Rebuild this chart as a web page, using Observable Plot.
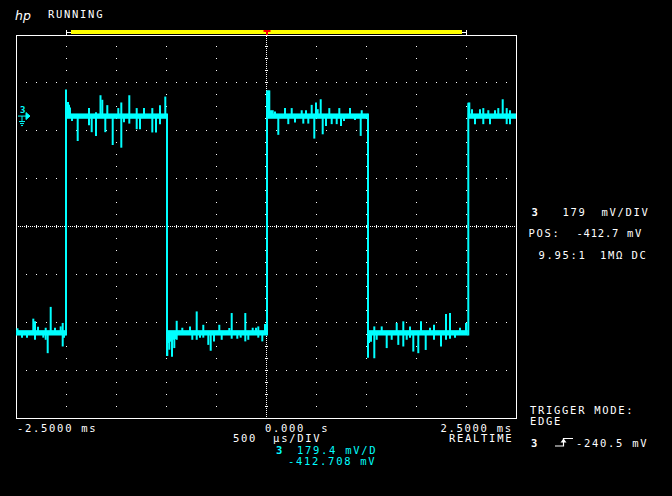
<!DOCTYPE html>
<html><head><meta charset="utf-8">
<script src="https://cdn.jsdelivr.net/npm/d3@7"></script>
<script src="https://cdn.jsdelivr.net/npm/@observablehq/plot@0.6"></script>
<style>
html,body{margin:0;padding:0;background:#000;}
#chart{position:relative;width:672px;height:496px;overflow:hidden;background:#000;}
</style></head><body><div id="chart"></div>
<script>
const CYAN = "#00ffff";
// ---- scope settings (data) ----
const timeDomain = [-2.5, 2.5];          // ms
const timePerDivUs = 500;                // us/div
const voltsPerDiv = 179.4;               // mV/div
const offsetMv = -412.708;               // mV at screen centre
const groundMv = 0;
const triggerMv = -240.5;
const probeRatio = "9.95:1";
const timeTickValues = [-2.5, 0, 2.5];
const timeTickLabels = ["-2.5000 ms", "0.000  s", "2.5000 ms"];
const memoryBar = [-1.955, 1.955];
const memoryBrackets = [-2, 2];

// ---- waveform (channel 3) ----
const highMv = -2, lowMv = -812, bandMv = 10;
const segStart = [-2.5, -2.005, -0.995, 0.005, 1.015, 2.018];
const segEnd   = [-2.005, -0.995, 0.005, 1.015, 2.018, 2.5];
const segLevel = [lowMv, highMv, lowMv, highMv, lowMv, highMv];
const edgeTimes = [-2.005, -0.995, 0.005, 1.015, 2.018];
const edgeFrom  = [-822, 8, -822, 8, -822];
const edgeTo    = [97, -899, 94, -905, 48];
const spikes = [
  [-2.49,-795],[-2.445,-830],[-2.395,-830],[-2.332,-759],[-2.315,-769],[-2.315,-838],[-2.285,-789],
  [-2.232,-830],[-2.208,-793],[-2.208,-838],[-2.188,-888],[-2.158,-715],[-2.115,-793],[-2.058,-788],
  [-2.038,-775],[-2.038,-863],[-2.025,-830],
  [-1.985,51],[-1.975,40],[-1.965,30],[-1.945,-20],[-1.888,-95],[-1.775,28],[-1.775,-36],[-1.748,-62],
  [-1.705,-76],[-1.705,12],[-1.66,76],[-1.642,59],[-1.612,-62],[-1.592,39],[-1.538,-110],[-1.482,28],
  [-1.452,49],[-1.452,-120],[-1.425,-25],[-1.372,76],[-1.372,-30],[-1.298,28],[-1.298,-51],[-1.265,-51],
  [-1.225,28],[-1.142,28],[-1.142,-63],[-1.105,-63],[-1.065,39],[-1.065,-32],[-1.012,71],
  [-0.992,-898],[-0.982,-850],[-0.972,-875],[-0.962,-845],[-0.952,-840],[-0.945,-901],[-0.935,-838],
  [-0.922,-869],[-0.912,-835],[-0.898,-767],[-0.898,-838],[-0.842,-793],[-0.765,-788],[-0.742,-838],
  [-0.698,-732],[-0.698,-838],[-0.665,-830],[-0.632,-782],[-0.632,-830],[-0.582,-857],[-0.558,-879],
  [-0.525,-844],[-0.472,-782],[-0.448,-838],[-0.372,-794],[-0.348,-738],[-0.348,-834],[-0.292,-834],
  [-0.258,-830],[-0.212,-738],[-0.212,-844],[-0.182,-838],[-0.138,-793],[-0.105,-793],[-0.082,-788],
  [-0.082,-830],[-0.042,-844],[-0.015,-779],
  [0.018,94],[0.028,94],[0.045,20],[0.062,20],[0.085,15],[0.118,-72],[0.185,28],[0.218,-32],[0.252,28],
  [0.285,-26],[0.352,20],[0.368,-30],[0.395,20],[0.418,-30],[0.452,40],[0.478,-86],[0.495,49],[0.512,24],
  [0.542,61],[0.562,-70],[0.595,-39],[0.628,28],[0.652,-32],[0.702,-32],[0.728,28],[0.745,-39],[0.775,-20],
  [0.835,28],[0.885,-17],[0.942,-76],[0.952,20],
  [1.025,-850],[1.045,-845],[1.078,-907],[1.078,-788],[1.102,-838],[1.152,-788],[1.202,-869],[1.252,-838],
  [1.302,-775],[1.318,-857],[1.368,-769],[1.368,-863],[1.402,-838],[1.435,-788],[1.435,-830],[1.468,-882],
  [1.518,-888],[1.545,-769],[1.592,-876],[1.635,-793],[1.675,-782],[1.675,-838],[1.745,-863],[1.795,-742],
  [1.795,-838],[1.835,-738],[1.835,-834],[1.885,-830],[1.935,-793],[1.995,-775],
  [2.028,49],[2.055,24],[2.085,-32],[2.135,24],[2.168,28],[2.168,-32],[2.218,20],[2.235,-32],[2.285,20],
  [2.318,28],[2.362,61],[2.402,28],[2.402,-32],[2.435,20],[2.435,-32]
];

function levelAt(t) {
  for (let i = 0; i < segStart.length; i++) if (t >= segStart[i] && t <= segEnd[i]) return segLevel[i];
  return highMv;
}

// ---- graticule positions (derived from scope divisions) ----
const yDomain = [offsetMv - 4 * voltsPerDiv, offsetMv + 4 * voltsPerDiv];
const rowDots = [];
for (let j = -3; j <= 3; j++) {
  if (j === 0) continue;
  for (let i = -24; i <= 24; i++) rowDots.push({t: i / 10, v: offsetMv + j * voltsPerDiv});
}
const colDots = [];
for (let j = -4; j <= 4; j++) {
  if (j === 0) continue;
  for (let k = -15; k <= 15; k++) colDots.push({t: j / 2, v: offsetMv + k * voltsPerDiv / 4});
}
const centreXTicks = d3.range(-24, 25).filter(i => i !== 0).map(i => i / 10);
const centreYTicks = d3.range(-15, 16).filter(k => k !== 0).map(k => offsetMv + k * voltsPerDiv / 4);

const vTick = {draw(c) { c.moveTo(0, -1.5); c.lineTo(0, 1.5); }};
const hTick = {draw(c) { c.moveTo(-1.5, 0); c.lineTo(1.5, 0); }};
const groundMarker = {draw(c) {
  c.moveTo(-4, 0); c.lineTo(4, 0);
  c.moveTo(0, 0); c.lineTo(0, 5.5);
  c.moveTo(-3, 5.5); c.lineTo(3, 5.5);
  c.moveTo(-2, 7.5); c.lineTo(2, 7.5);
  c.moveTo(-1, 9.5); c.lineTo(1, 9.5);
  c.moveTo(4, -3.5); c.lineTo(8, 0); c.lineTo(4, 3.5); c.closePath();
}};

const segIdx = d3.range(segStart.length);
const edgeIdx = d3.range(edgeTimes.length);

const plot = Plot.plot({
  width: 672, height: 496,
  marginTop: 34, marginRight: 156, marginBottom: 78, marginLeft: 16,
  style: {background: "#000", color: "white", fontFamily: "DejaVu Sans Mono", fontSize: "11px"},
  x: {domain: timeDomain, axis: null},
  y: {domain: yDomain, axis: null},
  marks: [
    Plot.dot(rowDots, {x: "t", y: "v", symbol: "square", r: 0.6, fill: "white", stroke: null, shapeRendering: "crispEdges"}),
    Plot.dot(colDots, {x: "t", y: "v", symbol: "square", r: 0.6, fill: "white", stroke: null, shapeRendering: "crispEdges"}),
    Plot.ruleX([0], {stroke: "white", strokeDasharray: "1,1"}),
    Plot.ruleY([offsetMv], {stroke: "white", strokeDasharray: "1,1"}),
    Plot.dot(centreXTicks, {x: d => d, y: () => offsetMv, symbol: vTick, r: 1, fill: "none", stroke: "white", strokeWidth: 1}),
    Plot.dot(centreYTicks, {x: () => 0, y: d => d, symbol: hTick, r: 1, fill: "none", stroke: "white", strokeWidth: 1}),
    Plot.frame({stroke: "white", insetTop: 1}),
    // waveform
    Plot.rect(segIdx, {x1: i => segStart[i], x2: i => segEnd[i], y1: i => segLevel[i] - bandMv, y2: i => segLevel[i] + bandMv, fill: CYAN}),
    Plot.ruleX(spikes, {x: d => d[0], y1: d => levelAt(d[0]), y2: d => d[1], stroke: CYAN, strokeWidth: 2}),
    Plot.ruleX(edgeIdx, {x: i => edgeTimes[i], y1: i => edgeFrom[i], y2: i => edgeTo[i], stroke: CYAN, strokeWidth: 2}),
    // channel ground marker
    Plot.dot([groundMv], {y: d => d, frameAnchor: "left", dx: 5.5, symbol: groundMarker, r: 1, fill: CYAN, stroke: CYAN, strokeWidth: 1}),
    Plot.text([groundMv], {y: d => d, frameAnchor: "left", text: () => "3", dx: 3.5, dy: -5.5, fill: CYAN, fontSize: 9, fontWeight: "bold"})
  ]
});
document.getElementById("chart").appendChild(plot);

// ---- scope chrome overlay ----
const xs = plot.scale("x");
const X = t => xs.apply(t) + 0.5;
const svg = d3.select(plot);
const g = svg.append("g").attr("font-family", "DejaVu Sans Mono").attr("font-size", 10.5)
  .attr("text-anchor", "start").style("letter-spacing", "1.7px");

// hp logo
svg.append("text").attr("x", 15).attr("y", 19.5).attr("text-anchor", "start").attr("font-family", "DejaVu Sans").attr("font-size", 12.5)
  .attr("font-style", "italic").attr("font-weight", 200).attr("fill", "white").text("hp");
// memory bar
svg.append("rect").attr("x", X(memoryBar[0])).attr("y", 30).attr("width", X(memoryBar[1]) - X(memoryBar[0])).attr("height", 4).attr("fill", "#ffff00");
const br = svg.append("g").attr("stroke", "white").attr("fill", "none").attr("shape-rendering", "crispEdges");
br.append("path").attr("d", `M${X(memoryBrackets[0])},30V35M${X(memoryBrackets[0])},32.5H${X(memoryBar[0])}`);
br.append("path").attr("d", `M${X(memoryBrackets[1])},30V35M${X(memoryBar[1])},32.5H${X(memoryBrackets[1])}`);
// trigger position marker
svg.append("rect").attr("x", X(0) - 3).attr("y", 30).attr("width", 7).attr("height", 2).attr("fill", "#ff0000");
svg.append("rect").attr("x", X(0) - 0.5).attr("y", 32).attr("width", 2).attr("height", 3).attr("fill", "#ff0000");

// time tick labels
const tickDx = [0.5, -1.5, -76];
timeTickValues.forEach((t, i) => {
  g.append("text").attr("x", X(t) + tickDx[i]).attr("y", 431.5).attr("fill", "white").text(timeTickLabels[i]);
});

const uiText = [
  ["RUNNING", 48, 17.5, "white", false],
  [`${timePerDivUs}  µs/DIV`, 233, 442, "white", false],
  ["REALTIME", 449, 442, "white", false],
  ["3", 276, 453.5, CYAN, true],
  [`${voltsPerDiv} mV/D`, 297, 453.5, CYAN, false],
  [`${offsetMv} mV`, 288, 464.5, CYAN, false],
  ["3", 531.5, 215.5, "white", true],
  [`${Math.round(voltsPerDiv)}`, 562.5, 215.5, "white", false],
  ["mV/DIV", 601.5, 215.5, "white", false],
  ["POS:", 528.5, 237, "white", false],
  [`${offsetMv.toFixed(1)}`, 576.5, 237, "white", false, 0.8],
  ["mV", 627, 237, "white", false],
  [probeRatio, 538.5, 258.5, "white", false],
  ["1MΩ", 600, 258.5, "white", false],
  ["DC", 631.5, 258.5, "white", false],
  ["TRIGGER MODE:", 530, 413.5, "white", false],
  ["EDGE", 530, 424.5, "white", false],
  ["3", 531, 446.5, "white", true],
  [`${triggerMv} mV`, 576, 446.5, "white", false]
];
uiText.forEach(([s, x, y, fill, bold, ls]) => {
  const t = g.append("text").attr("x", x).attr("y", y).attr("fill", fill).attr("font-weight", bold ? "bold" : "normal").text(s);
  if (ls != null) t.style("letter-spacing", ls + "px");
});
// trigger edge symbol
svg.append("path").attr("d", "M555,446H563.5V438.5H573").attr("stroke", "white").attr("fill", "none").attr("stroke-width", 1.2);
svg.append("path").attr("d", "M560.5,442.5L563.5,438.5L566.5,442.5Z").attr("fill", "white");
</script></body></html>
